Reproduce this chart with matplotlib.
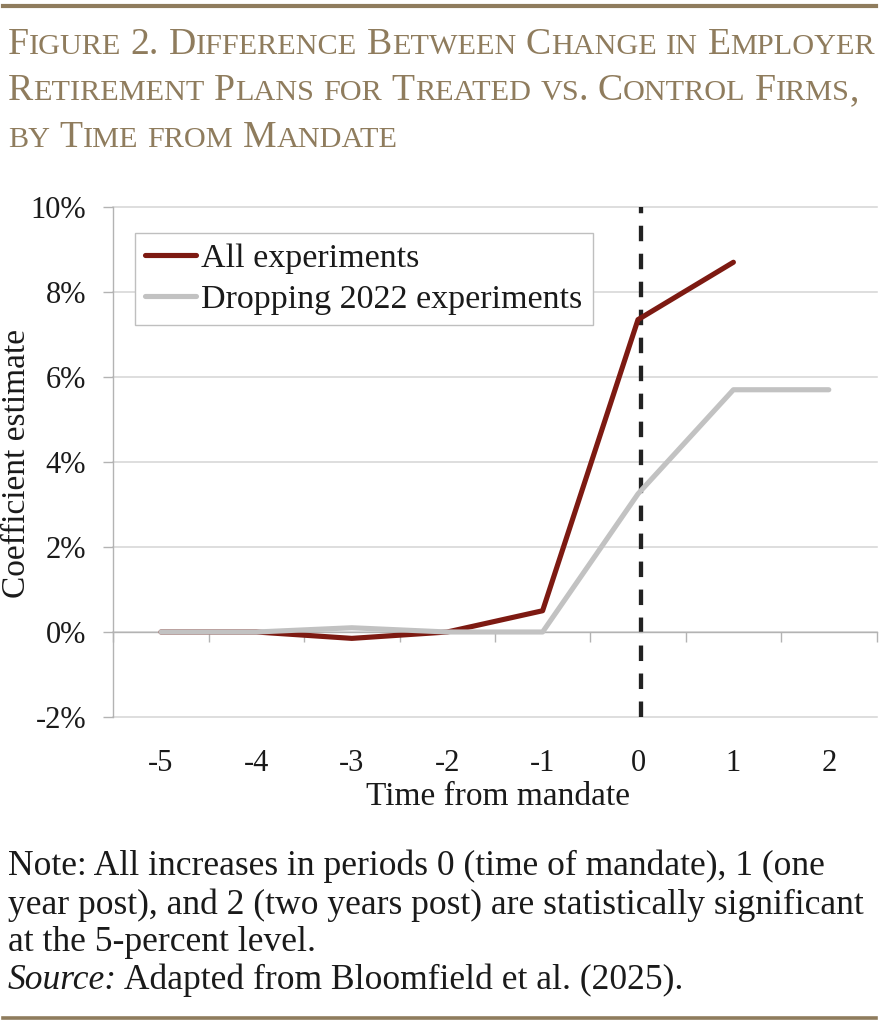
import numpy as np
import matplotlib
matplotlib.use("Agg")
import matplotlib.pyplot as plt
from matplotlib.font_manager import FontProperties
from matplotlib.ticker import FixedLocator, FuncFormatter

# ---------------- data ----------------
periods = [-5, -4, -3, -2, -1, 0, 1, 2]
period_labels = ["-5", "-4", "-3", "-2", "-1", "0", "1", "2"]
all_experiments = [0.0, 0.0, -0.15, 0.0, 0.5, 7.35, 8.7, np.nan]
dropping_2022 = [0.0, 0.0, 0.1, 0.0, 0.0, 3.25, 5.7, 5.7]
series_names = ["All experiments", "Dropping 2022 experiments"]
y_ticks = [-2, 0, 2, 4, 6, 8, 10]
mandate_period = 0

title_lines = ["Figure 2. Difference Between Change in Employer",
               "Retirement Plans for Treated vs. Control Firms,",
               "by Time from Mandate"]
note_lines = ["Note: All increases in periods 0 (time of mandate), 1 (one",
              "year post), and 2 (two years post) are statistically significant",
              "at the 5-percent level."]
source_label = "Source:"
source_text = " Adapted from Bloomfield et al. (2025)."

# ---------------- style ----------------
W, H = 882, 1024
SERIF = "Liberation Serif"
TAN = "#8f7c5d"
RED = "#7d1a12"
GREY = "#c2c2c2"
GRID = "#d4d4d4"
AXC = "#b3b3b3"
TXT = "#1a1a1a"

plt.rcParams["font.family"] = [SERIF, "DejaVu Serif"]

fig = plt.figure(figsize=(W / 100, H / 100), dpi=100)
renderer = fig.canvas.get_renderer()


def fx(x):
    return x / W


def fy(y):
    return 1 - y / H


def text_w(s, fp):
    w, h, d = renderer.get_text_width_height_descent(s, fp, ismath=False)
    return w


def runs(word):
    out = []
    for ch in word:
        small = ch.islower()
        if out and out[-1][0] == small:
            out[-1][1] += ch
        else:
            out.append([small, ch])
    return out


def smallcaps(x, y, text, size, color, draw=True):
    big = FontProperties(family=SERIF, size=size)
    sml = FontProperties(family=SERIF, size=size * 0.8)
    sp = text_w("a a", big) - text_w("aa", big)
    cur = x
    for i, word in enumerate(text.split(" ")):
        if i > 0:
            cur += sp
        for small, chunk in runs(word):
            fp = sml if small else big
            s = chunk.upper() if small else chunk
            if draw:
                fig.text(fx(cur), fy(y), s, fontproperties=fp, color=color,
                         ha="left", va="baseline")
            cur += text_w(s, fp)
    return cur - x


# ---- title rules ----
fig.add_artist(plt.Line2D([fx(3), fx(876)], [fy(6), fy(6)], color=TAN, lw=3.0))
fig.add_artist(plt.Line2D([fx(3), fx(876)], [fy(1018), fy(1018)], color=TAN, lw=2.6))

# ---- title (small caps), fitted to width ----
base = 28
w0 = smallcaps(8, 0, title_lines[0], base, TAN, draw=False)
tsize = base * (867 / w0)
for line, yb in zip(title_lines, [54, 100, 147]):
    smallcaps(8, yb, line, tsize, TAN)

# ---- note ----
nbase = 22
nfp = FontProperties(family=SERIF, size=nbase)
nw = text_w(note_lines[1], nfp)
nsize = nbase * (854 / nw)
nfp = FontProperties(family=SERIF, size=nsize)
for line, yb in zip(note_lines, [875, 914, 951]):
    fig.text(fx(8), fy(yb), line, fontproperties=nfp, color=TXT,
             ha="left", va="baseline")
ifp = FontProperties(family=SERIF, size=nsize, style="italic")
fig.text(fx(8), fy(989), source_label, fontproperties=ifp, color=TXT,
         ha="left", va="baseline")
fig.text(fx(8 + text_w(source_label, ifp)), fy(989), source_text,
         fontproperties=nfp, color=TXT, ha="left", va="baseline")

# ---- axes ----
ax_l, ax_r, ax_t, ax_b = 113.3, 876.5, 207, 717
ax = fig.add_axes([fx(ax_l), fy(ax_b), (ax_r - ax_l) / W, (ax_b - ax_t) / H])
ax.set_xlim(periods[0] - 0.5, periods[-1] + 0.5)
ax.set_ylim(y_ticks[0], y_ticks[-1])

ax.yaxis.set_major_locator(FixedLocator(y_ticks))
ax.yaxis.set_major_formatter(FuncFormatter(lambda v, p: f"{v:.0f}%"))
ax.grid(axis="y", color=GRID, lw=1.1, zorder=0)
for gl in ax.yaxis.get_gridlines():
    gl.set_clip_on(False)
ax.set_axisbelow(True)

for s in ["top", "right"]:
    ax.spines[s].set_visible(False)
ax.spines["left"].set_color(AXC)
ax.spines["left"].set_linewidth(1.0)
ax.spines["bottom"].set_position(("data", 0))
ax.spines["bottom"].set_color(AXC)
ax.spines["bottom"].set_linewidth(1.0)

ax.tick_params(axis="y", which="major", length=7.5, width=1.0, color=AXC,
               pad=12, labelsize=22, labelcolor=TXT)
ax.set_xticks(periods)
ax.set_xticklabels(period_labels)
ax.set_xticks(np.arange(periods[0] - 0.5, periods[-1] + 0.6, 1.0), minor=True)
ax.tick_params(axis="x", which="major", length=0, pad=84, labelsize=22,
               labelcolor=TXT)
ax.tick_params(axis="x", which="minor", length=7.5, width=1.0, color=AXC)

ax.axvline(mandate_period + 0.03, color="#222222", lw=3.1, dashes=(3.6, 2.9),
           zorder=2.5)

ax.plot(periods, all_experiments, color=RED, lw=3.7, solid_capstyle="round",
        label=series_names[0], zorder=3)
ax.plot(periods, dropping_2022, color=GREY, lw=3.7, solid_capstyle="round",
        label=series_names[1], zorder=3.1)

leg = ax.legend(loc="upper left", bbox_to_anchor=((135 - ax_l) / (ax_r - ax_l),
                                                   (ax_b - 233) / (ax_b - ax_t)),
                borderaxespad=0, fontsize=24.5, frameon=True, fancybox=False,
                framealpha=1, edgecolor="#bfbfbf", handlelength=1.5,
                handletextpad=0.15, borderpad=0.3, labelspacing=0.3)
leg.get_frame().set_linewidth(1.0)
for t in leg.get_texts():
    t.set_color(TXT)

# axis labels
fig.text(fx(17), fy(463), "Coefficient estimate", rotation=90, fontsize=24,
         color=TXT, ha="center", va="center")
fig.text(fx(498), fy(805), "Time from mandate", fontsize=24, color=TXT,
         ha="center", va="baseline")

fig.savefig("out.png", dpi=100)
